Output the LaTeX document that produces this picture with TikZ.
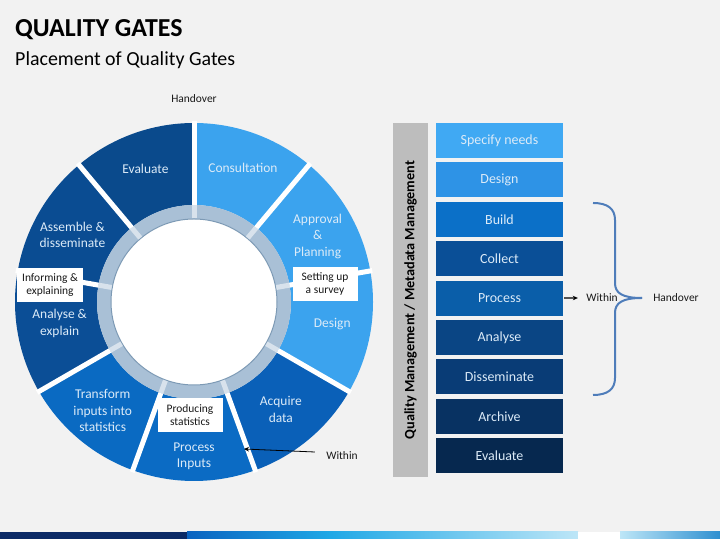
\documentclass[tikz,border=0pt]{standalone}
\usepackage{fontspec}
\setmainfont{Carlito}
\usetikzlibrary{arrows.meta,positioning}

\definecolor{bggray}{HTML}{F2F2F2}
\definecolor{segA}{HTML}{3BA3EE}
\definecolor{segB}{HTML}{0A60B8}
\definecolor{segC}{HTML}{0B6BC4}
\definecolor{segD}{HTML}{0A6AC2}
\definecolor{segE}{HTML}{0B4E96}
\definecolor{segF}{HTML}{0A4C92}
\definecolor{segG}{HTML}{0A4A8C}
\definecolor{segtext}{HTML}{DCEBF8}
\definecolor{ringc}{HTML}{A9C0D6}
\definecolor{ringline}{HTML}{7D9AB5}
\definecolor{barc}{HTML}{BDBDBD}
\definecolor{st1}{HTML}{40A9F3}
\definecolor{st2}{HTML}{2E93E6}
\definecolor{st3}{HTML}{0B70C8}
\definecolor{st4}{HTML}{0A4F97}
\definecolor{st5}{HTML}{0A5EA9}
\definecolor{st6}{HTML}{0A4584}
\definecolor{st7}{HTML}{093C76}
\definecolor{st8}{HTML}{083262}
\definecolor{st9}{HTML}{06284F}
\definecolor{bracec}{HTML}{4F7DBA}
\definecolor{navy}{HTML}{0B2A66}
\definecolor{barA}{HTML}{0A63C0}
\definecolor{barB}{HTML}{1FA8E6}
\definecolor{barC}{HTML}{BDE6F7}
\definecolor{barD}{HTML}{2E8FD0}

\tikzset{
  seglabel/.style={text=segtext, align=center, inner sep=0pt, font=\fontsize{13.5}{16.5}\selectfont},
  gatebox/.style={fill=white, text=black!90, align=center, minimum width=65bp,
    minimum height=34bp, inner sep=1bp, font=\fontsize{11.5}{13.5}\selectfont},
  stagebox/.style={minimum width=127bp, minimum height=35bp, inner sep=0pt,
    text=segtext, font=\fontsize{14}{16}\selectfont},
  note/.style={text=black!90, font=\fontsize{11.5}{13}\selectfont},
  arr/.style={-{Stealth[length=5bp,width=4.5bp]}, line width=0.8bp},
}

\begin{document}
\begin{tikzpicture}[x=1bp,y=1bp]
    \fill[bggray] (0,0) rectangle (720,539);
    \useasboundingbox (0,0) rectangle (720,539);

    % title
    \node[anchor=base west, inner sep=0pt, font=\bfseries\fontsize{26}{28}\selectfont] (title) at (15,502) {QUALITY GATES};
    \node[anchor=base west, inner sep=0pt, font=\fontsize{20}{22}\selectfont] (subtitle) at (15,473) {Placement of Quality Gates};

    % wheel
    \coordinate (O) at (194,237);
    \begin{scope}[shift={(O)}]
        \foreach \a/\c in {90/segA, 50/segA, 10/segA, -30/segB, -70/segC, -110/segD, -150/segE, -190/segF, -230/segG}
            \fill[\c] (\a:97) arc[start angle=\a, end angle=\a-40, radius=97]
                -- ({\a-40}:179) arc[start angle=\a-40, end angle=\a, radius=179] -- cycle;

        \fill[ringc] (0,0) circle (97);
        \fill[white] (0,0) circle (83);
        \draw[ringline, line width=1bp] (0,0) circle (83);

        \foreach \a in {90,50,...,-230} {
            \draw[white, line width=5bp] (\a:97) -- (\a:181);
            \draw[white, opacity=.55, line width=5bp] (\a:83.5) -- (\a:97);
        }

        \foreach \a/\r/\t [count=\i] in {110/142/Evaluate, 70/143/Consultation,
                28/140/{Approval\\\&\\Planning}, -9/140/Design, -51/138/{Acquire\\data},
                -90/154/{Process\\Inputs}, -130/142/{Transform\\inputs into\\statistics},
                189/136/{Analyse \&\\explain}, 151/139/{Assemble \&\\disseminate}}
            \node[seglabel] (seg\i) at (\a:\r) {\t};
    \end{scope}

    \node[gatebox] (inform) at (50,254) {Informing \&\\explaining};
    \node[gatebox] (survey) at (325,255) {Setting up\\a survey};
    \node[gatebox] (produce) at (190,124) {Producing\\statistics};

    \node[note] (handover1) at (194,440) {Handover};
    \node[note] (within1) at (342,83) {Within};
    \coordinate (wtip) at (244,90);
    \draw[arr] ([xshift=-8bp,yshift=4bp]within1.west) -- (wtip);

    % stages
    \node[fill=barc, rotate=90, minimum width=354bp, minimum height=35bp, inner sep=0pt,
        font=\bfseries\fontsize{14.3}{16}\selectfont] (qm) at (410.5,239) {Quality Management / Metadata Management};

    \foreach \t/\c [count=\i] in {Specify needs/st1, Design/st2, Build/st3, Collect/st4, Process/st5,
            Analyse/st6, Disseminate/st7, Archive/st8, Evaluate/st9}
        \node[stagebox, fill=\c] (st\i) at (499.5,{398.5-39.4*(\i-1)}) {\t};

    \draw[bracec, line width=2bp] (593,336) .. controls (608,336) and (615,330) .. (615,319)
        -- (615,256) .. controls (615,246) and (622,241) .. (642,241);
    \draw[bracec, line width=2bp] (642,241) .. controls (622,241) and (615,236) .. (615,226)
        -- (615,161) .. controls (615,150) and (608,144) .. (593,144);

    \node[note] (within2) at (602,241) {Within};
    \node[note] (handover2) at (676,241) {Handover};
    \draw[arr, line width=1.3bp] ([xshift=1bp]st5.east) -- ([xshift=-5bp]within2.west);

    % bottom strip
    \fill[navy] (0,0) rectangle (187,7);
    \shade[left color=barA, right color=barB] (187,0) rectangle (330,7);
    \shade[left color=barB, right color=barC] (330,0) rectangle (578,7);
    \fill[white] (578,0) rectangle (620,7);
    \shade[left color=barC, right color=barD] (620,0) rectangle (720,7);
\end{tikzpicture}
\end{document}
